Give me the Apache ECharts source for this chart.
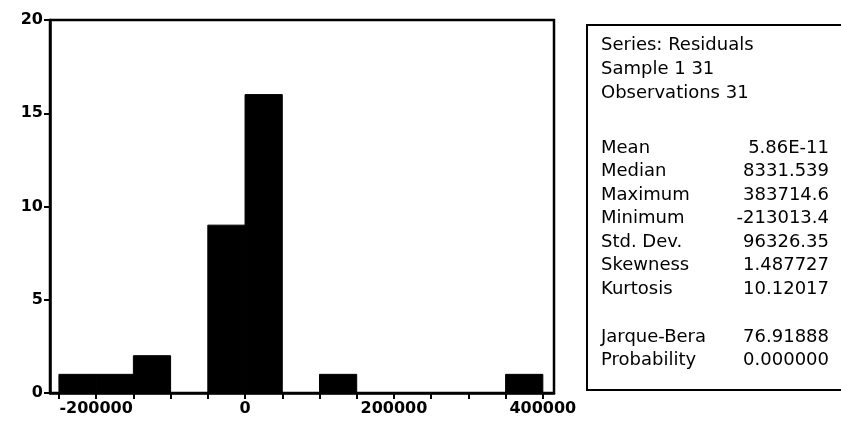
<!DOCTYPE html>
<html lang="en">
<head>
  <meta charset="UTF-8">
  <title>Residuals Histogram</title>
  <script src="https://cdn.jsdelivr.net/npm/echarts/dist/echarts.min.js"></script>
  <style>
    body { margin: 0; background: #fff; }
    #chart { width: 841px; height: 430px; }
  </style>
</head>
<body>
<div id="chart"></div>
<script>
    // histogram bins: start, end, count
    const binStarts = [-250000, -200000, -150000, -50000, 0, 100000, 350000];
    const binEnds = [-200000, -150000, -100000, 0, 50000, 150000, 400000];
    const counts = [1, 1, 2, 9, 16, 1, 1];

    const xTicks = [-250000, -200000, -150000, -100000, -50000, 0, 50000, 100000,
        150000, 200000, 250000, 300000, 350000, 400000];
    const xLabels = [-200000, 0, 200000, 400000];

    const headerLines = ['Series: Residuals', 'Sample 1 31', 'Observations 31'];
    const statNames = ['Mean', 'Median', 'Maximum', 'Minimum', 'Std. Dev.', 'Skewness', 'Kurtosis'];
    const statValues = ['5.86E-11', '8331.539', '383714.6', '-213013.4', '96326.35', '1.487727', '10.12017'];
    const testNames = ['Jarque-Bera', 'Probability'];
    const testValues = ['76.91888', '0.000000'];

    const font = 'DejaVu Sans';
    const bins = binStarts.map((s, i) => [s, binEnds[i], counts[i]]);

    // stats box text
    const graphics = [{
        type: 'rect',
        shape: { x: 587, y: 25, width: 280, height: 365 },
        style: { fill: '#fff', stroke: '#000', lineWidth: 2 }
    }];
    function addText(txt, x, y, align) {
        graphics.push({
            type: 'text', x: x, y: y,
            style: { text: txt, font: '18px "' + font + '"', fill: '#000',
                     textAlign: align, textVerticalAlign: 'middle' }
        });
    }
    headerLines.forEach((t, i) => addText(t, 601, 45 + i * 24, 'left'));
    statNames.forEach((t, i) => {
        addText(t, 601, 148 + i * 23.5, 'left');
        addText(statValues[i], 829, 148 + i * 23.5, 'right');
    });
    testNames.forEach((t, i) => {
        addText(t, 601, 337 + i * 23.5, 'left');
        addText(testValues[i], 829, 337 + i * 23.5, 'right');
    });

    const chart = echarts.init(document.getElementById('chart'));
    chart.setOption({
        animation: false,
        grid: {
            left: 50, right: 287, top: 20, bottom: 37,
            show: true, borderColor: '#000', borderWidth: 2.5
        },
        xAxis: {
            type: 'value',
            min: -262000,
            max: 415000,
            splitLine: { show: false },
            axisLine: { show: true, onZero: false, lineStyle: { color: '#000', width: 2.5 } },
            axisTick: { show: true, length: 6, customValues: xTicks, lineStyle: { color: '#000', width: 2 } },
            axisLabel: {
                customValues: xLabels, color: '#000', margin: 8,
                fontFamily: font, fontWeight: 'bold', fontSize: 16,
                formatter: v => String(v)
            }
        },
        yAxis: {
            type: 'value',
            min: 0,
            max: 20,
            interval: 5,
            splitLine: { show: false },
            axisLine: { show: true, onZero: false, lineStyle: { color: '#000', width: 2.5 } },
            axisTick: { show: true, length: 6, lineStyle: { color: '#000', width: 2 } },
            axisLabel: { color: '#000', margin: 7, fontFamily: font, fontWeight: 'bold', fontSize: 16 }
        },
        series: [{
            type: 'custom',
            data: bins,
            renderItem: function (params, api) {
                const topLeft = api.coord([api.value(0), api.value(2)]);
                const bottomRight = api.coord([api.value(1), 0]);
                return {
                    type: 'rect',
                    shape: {
                        x: topLeft[0], y: topLeft[1],
                        width: bottomRight[0] - topLeft[0],
                        height: bottomRight[1] - topLeft[1]
                    },
                    style: { fill: '#000', stroke: '#000', lineWidth: 1 }
                };
            }
        }],
        graphic: graphics
    });
</script>
</body>
</html>
